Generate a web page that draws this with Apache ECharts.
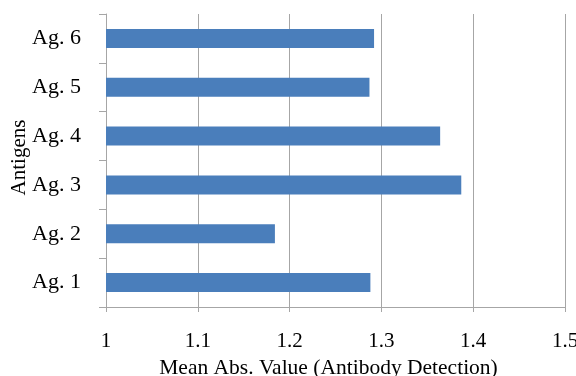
<!DOCTYPE html>
<html>
<head>
<meta charset="utf-8">
<script src="https://cdn.jsdelivr.net/npm/echarts@6/dist/echarts.min.js"></script>
<style>html,body{margin:0;padding:0;background:#fff;}#c{width:576px;height:376px;}</style>
</head>
<body>
<div id="c"></div>
<script>
const categories = ['Ag. 1', 'Ag. 2', 'Ag. 3', 'Ag. 4', 'Ag. 5', 'Ag. 6'];
const meanValues = [1.288, 1.184, 1.387, 1.364, 1.287, 1.292];
const xTicks = [1, 1.1, 1.2, 1.3, 1.4, 1.5];

const font = 'Liberation Serif, Times New Roman, serif';
const chart = echarts.init(document.getElementById('c'), null, {renderer: 'canvas'});
chart.setOption({
  animation: false,
  backgroundColor: '#ffffff',
  grid: {left: 106, right: 11, top: 14, bottom: 69, containLabel: false, outerBoundsMode: 'none'},
  xAxis: {
    type: 'value',
    min: xTicks[0],
    max: xTicks[xTicks.length - 1],
    interval: 0.1,
    name: 'Mean Abs. Value (Antibody Detection)',
    nameLocation: 'middle',
    nameGap: 50,
    nameMoveOverlap: false,
    nameTextStyle: {fontFamily: font, fontSize: 21.5, color: '#000', padding: [0, 14, 0, 0]},
    axisLine: {show: true, lineStyle: {color: '#a6a6a6', width: 1}},
    axisTick: {show: true, length: 5, lineStyle: {color: '#a6a6a6'}},
    axisLabel: {fontFamily: font, fontSize: 21, color: '#000', margin: 24},
    splitLine: {show: true, lineStyle: {color: '#a6a6a6', width: 1}}
  },
  yAxis: {
    type: 'category',
    data: categories,
    name: 'Antigens',
    nameLocation: 'middle',
    nameGap: 76,
    nameRotate: 90,
    nameMoveOverlap: false,
    nameTextStyle: {fontFamily: font, fontSize: 21, color: '#000', padding: [0, 0, 0, 6]},
    axisLine: {show: true, lineStyle: {color: '#a6a6a6', width: 1}},
    axisTick: {show: true, length: 7, lineStyle: {color: '#a6a6a6'}},
    axisLabel: {fontFamily: font, fontSize: 22, color: '#000', margin: 25},
    splitLine: {show: false}
  },
  series: [{
    type: 'bar',
    data: meanValues,
    barWidth: 19,
    itemStyle: {color: '#4a7ebb'}
  }]
});
</script>
</body>
</html>
